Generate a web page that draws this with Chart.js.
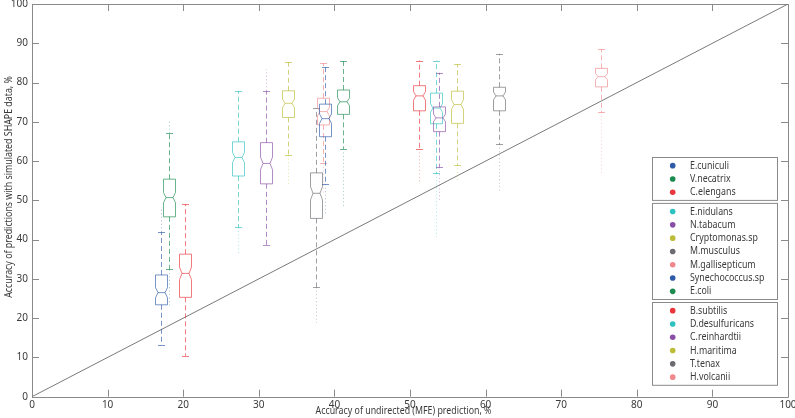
<!DOCTYPE html>
<html><head><meta charset="utf-8">
<script src="https://cdn.jsdelivr.net/npm/chart.js@4"></script>
<style>html,body{margin:0;padding:0;background:#fff;overflow:hidden}canvas{display:block}</style>
</head><body>
<canvas id="c" width="795" height="418"></canvas>
<script>
// ---------- data ----------
const species = ['E.cuniculi','V.necatrix','C.elengans',
  'E.nidulans','N.tabacum','Cryptomonas.sp','M.musculus','M.gallisepticum','Synechococcus.sp','E.coli',
  'B.subtilis','D.desulfuricans','C.reinhardtii','H.maritima','T.tenax','H.volcanii'];
const groupSizes = [3, 7, 6];
const colors = ['#2e5aa8','#1a8a4e','#e8363c',
  '#2fc0c0','#8a4ea6','#bcbc38','#6b6b72','#f0888c','#2e5aa8','#1a8a4e',
  '#e8363c','#2fc0c0','#8a4ea6','#bcbc38','#6b6b72','#f0888c'];
// x: accuracy of undirected (MFE) prediction
const xPos   = [17.0, 18.1, 20.3, 27.2, 30.9, 33.9, 37.5, 38.5, 38.8, 41.1, 51.2, 53.4, 53.8, 56.2, 61.8, 75.2];
// box statistics of accuracy with simulated SHAPE data
const q1     = [23.4, 45.8, 25.3, 56.2, 54.2, 71.1, 45.4, 69.2, 66.2, 71.9, 72.8, 69.5, 67.5, 69.6, 72.8, 78.9];
const median = [26.5, 50.7, 31.4, 60.9, 59.4, 74.7, 51.8, 72.6, 70.8, 75.1, 76.6, 73.5, 71.0, 74.4, 76.6, 81.5];
const q3     = [31.0, 55.4, 36.3, 64.9, 64.7, 77.9, 57.0, 76.0, 74.5, 78.1, 79.2, 77.3, 73.8, 77.8, 78.8, 83.6];
const whiskLo= [13.2, 32.4, 10.4, 43.1, 38.6, 61.5, 27.9, 59.4, 54.1, 63.1, 63.1, 56.9, 58.4, 59.0, 64.3, 72.4];
const whiskHi= [42.0, 67.1, 49.0, 77.8, 77.9, 85.2, 73.4, 84.9, 83.9, 85.6, 85.6, 85.6, 82.5, 84.7, 87.3, 88.5];
const outLo  = [null, 22.6, null, 36.5, null, 53.5, 18.8, 52.0, 46.7, 48.4, 54.7, 40.7, 50.0, 55.0, 52.2, 56.9];
const outHi  = [48.3, 70.0, null, null, 83.4, null, null, null, null, null, null, null, null, null, null, null];
const notchHalf = [1.3, 1.3, 1.6, 1.3, 1.6, 1.1, 1.7, 1.1, 1.2, 1.0, 1.1, 1.1, 1.0, 1.2, 1.0, 0.8];
const xTicks = [0,10,20,30,40,50,60,70,80,90,100];
const yTicks = [0,10,20,30,40,50,60,70,80,90,100];
const diagX = [0, 100];
const diagY = [0, 100];
const xTitle = 'Accuracy of undirected (MFE) prediction, %';
const yTitle = 'Accuracy of predictions with simulated SHAPE data, %';

// ---------- style ----------
const FONT = '"Noto Sans", "Open Sans", sans-serif';
const AXIS_COLOR = '#8a8a8a';
const TEXT_COLOR = '#3a3a3a';
const SQUEEZE = 0.84;

function squeezedText(ctx, txt, x, y, size, align, rot) {
  ctx.save();
  ctx.font = size + 'px ' + FONT;
  ctx.fillStyle = TEXT_COLOR;
  ctx.textBaseline = 'middle';
  ctx.textAlign = align || 'left';
  ctx.translate(x, y);
  if (rot) ctx.rotate(rot);
  ctx.scale(SQUEEZE, 1);
  ctx.fillText(txt, 0, 0);
  ctx.restore();
}

const framePlugin = {
  id: 'frame',
  beforeDatasetsDraw(chart) {
    const {ctx, chartArea: a} = chart;
    const xs = chart.scales.x, ys = chart.scales.y;
    ctx.save();
    ctx.strokeStyle = AXIS_COLOR;
    ctx.lineWidth = 1;
    ctx.beginPath();
    ctx.rect(Math.round(a.left) + 0.5, Math.round(a.top) + 0.5,
             Math.round(a.right) - Math.round(a.left), Math.round(a.bottom) - Math.round(a.top));
    const TL = 7;
    xTicks.forEach(v => {
      const px = Math.round(xs.getPixelForValue(v)) + 0.5;
      ctx.moveTo(px, a.bottom); ctx.lineTo(px, a.bottom - TL);
      ctx.moveTo(px, a.top); ctx.lineTo(px, a.top + TL);
    });
    yTicks.forEach(v => {
      const py = Math.round(ys.getPixelForValue(v)) + 0.5;
      ctx.moveTo(a.left, py); ctx.lineTo(a.left + TL, py);
      ctx.moveTo(a.right, py); ctx.lineTo(a.right - TL, py);
    });
    ctx.stroke();
    ctx.restore();
  }
};

const boxPlugin = {
  id: 'boxes',
  afterDatasetsDraw(chart) {
    const {ctx} = chart;
    const xs = chart.scales.x, ys = chart.scales.y;
    const HW = 6, IND = 2.5, CAP = 3.5;
    for (let i = 0; i < species.length; i++) {
      const cx = Math.round(xs.getPixelForValue(xPos[i])) + 0.5;
      const yQ1 = ys.getPixelForValue(q1[i]);
      const yQ3 = ys.getPixelForValue(q3[i]);
      const yMed = ys.getPixelForValue(median[i]);
      const yNLo = Math.min(yQ1, ys.getPixelForValue(median[i] - notchHalf[i]));
      const yNHi = Math.max(yQ3, ys.getPixelForValue(median[i] + notchHalf[i]));
      const yWLo = ys.getPixelForValue(whiskLo[i]);
      const yWHi = ys.getPixelForValue(whiskHi[i]);
      ctx.save();
      ctx.strokeStyle = colors[i];
      ctx.lineWidth = 1;
      // outliers (dense column of markers)
      ctx.globalAlpha = 0.4;
      ctx.setLineDash([1, 2.5]);
      ctx.beginPath();
      if (outLo[i] !== null) { ctx.moveTo(cx, yWLo); ctx.lineTo(cx, ys.getPixelForValue(outLo[i])); }
      if (outHi[i] !== null) { ctx.moveTo(cx, yWHi); ctx.lineTo(cx, ys.getPixelForValue(outHi[i])); }
      ctx.stroke();
      // whiskers
      ctx.globalAlpha = 0.65;
      ctx.setLineDash([5, 3]);
      ctx.beginPath();
      ctx.moveTo(cx, yQ1); ctx.lineTo(cx, yWLo);
      ctx.moveTo(cx, yQ3); ctx.lineTo(cx, yWHi);
      ctx.stroke();
      ctx.setLineDash([]);
      ctx.beginPath();
      ctx.moveTo(cx - CAP, Math.round(yWLo) + 0.5); ctx.lineTo(cx + CAP, Math.round(yWLo) + 0.5);
      ctx.moveTo(cx - CAP, Math.round(yWHi) + 0.5); ctx.lineTo(cx + CAP, Math.round(yWHi) + 0.5);
      ctx.stroke();
      // notched box
      ctx.globalAlpha = 0.65;
      ctx.beginPath();
      ctx.moveTo(cx - HW, yQ1);
      ctx.lineTo(cx - HW, yNLo);
      ctx.lineTo(cx - HW + IND, yMed);
      ctx.lineTo(cx - HW, yNHi);
      ctx.lineTo(cx - HW, yQ3);
      ctx.lineTo(cx + HW, yQ3);
      ctx.lineTo(cx + HW, yNHi);
      ctx.lineTo(cx + HW - IND, yMed);
      ctx.lineTo(cx + HW, yNLo);
      ctx.lineTo(cx + HW, yQ1);
      ctx.closePath();
      ctx.stroke();
      ctx.beginPath();
      ctx.moveTo(cx - HW + IND, yMed); ctx.lineTo(cx + HW - IND, yMed);
      ctx.stroke();
      ctx.restore();
    }
  }
};

const legendPlugin = {
  id: 'customLegend',
  afterDraw(chart) {
    const {ctx} = chart;
    const L = 652.5, R = 777.5, ROW = 13.3, GAP = 3;
    let top = 157.5, idx = 0;
    ctx.save();
    groupSizes.forEach(n => {
      const h = n * ROW + 3;
      ctx.fillStyle = '#fff';
      ctx.fillRect(L, top, R - L, h);
      ctx.strokeStyle = '#8a8a8a';
      ctx.lineWidth = 1;
      ctx.strokeRect(L, top, R - L, h);
      for (let k = 0; k < n; k++, idx++) {
        const cy = top + 1.5 + ROW * (k + 0.5);
        ctx.fillStyle = colors[idx];
        ctx.beginPath();
        ctx.arc(672.7, cy, 2.8, 0, Math.PI * 2);
        ctx.fill();
        squeezedText(ctx, species[idx], 690, cy, 10.5, 'left');
      }
      top += h + GAP;
    });
    // axis titles
    squeezedText(ctx, xTitle, 403.5, 411.5, 10.5, 'center');
    squeezedText(ctx, yTitle, 9, 187, 10.5, 'center', -Math.PI / 2);
    ctx.restore();
  }
};

new Chart(document.getElementById('c'), {
  type: 'scatter',
  data: {
    datasets: [{
      label: 'y = x',
      data: diagX.map((x, i) => ({x, y: diagY[i]})),
      showLine: true,
      borderColor: '#7a7a7a',
      borderWidth: 1,
      pointRadius: 0,
      fill: false
    }]
  },
  options: {
    responsive: false,
    devicePixelRatio: 1,
    animation: false,
    layout: {padding: {top: 4, right: 7, left: 0, bottom: 0}},
    plugins: {legend: {display: false}, tooltip: {enabled: false}},
    scales: {
      x: {
        type: 'linear', min: 0, max: 100,
        afterBuildTicks(s) { s.ticks = xTicks.map(v => ({value: v})); },
        afterFit(s) { s.height = 21.3; s.paddingLeft = 0; s.paddingRight = 0; },
        grid: {display: false, drawTicks: false, tickLength: 0},
        border: {display: false},
        ticks: {color: TEXT_COLOR, font: {family: FONT, size: 10}, padding: 2, maxRotation: 0, autoSkip: false}
      },
      y: {
        type: 'linear', min: 0, max: 100,
        afterBuildTicks(s) { s.ticks = yTicks.map(v => ({value: v})); },
        afterFit(s) { s.width = 32; s.paddingTop = 0; s.paddingBottom = 0; },
        grid: {display: false, drawTicks: false, tickLength: 0},
        border: {display: false},
        ticks: {color: TEXT_COLOR, font: {family: FONT, size: 10}, padding: 4, autoSkip: false}
      }
    }
  },
  plugins: [framePlugin, boxPlugin, legendPlugin]
});
</script>
</body></html>
